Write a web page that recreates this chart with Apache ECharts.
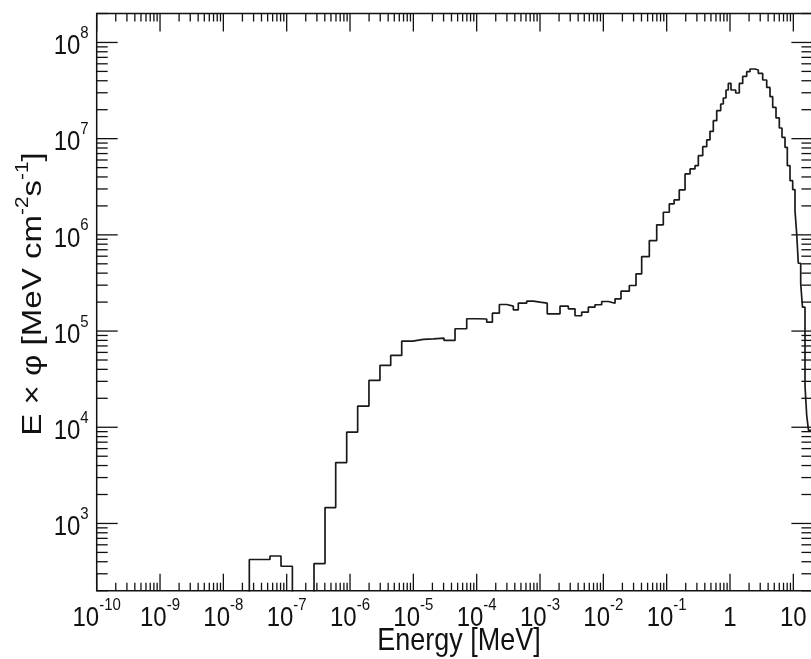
<!DOCTYPE html>
<html><head><meta charset="utf-8">
<script src="https://cdn.jsdelivr.net/npm/echarts@6/dist/echarts.min.js"></script>
<style>html,body{margin:0;padding:0;background:#fff;}#c{width:811px;height:659px;}</style>
</head><body><div id="c"></div>
<script>
// Bin edges (MeV) of the histogram, n+1 values
const binEdges = [2.57e-8, 5.45e-8, 8.13e-8, 1.23e-7, 2.70e-7, 4.03e-7, 5.94e-7, 8.86e-7, 1.32e-6, 1.99e-6,
  2.97e-6, 4.39e-6, 6.55e-6, 9.77e-6, 1.44e-5, 2.07e-5, 3.05e-5, 4.55e-5, 6.96e-5, 1.01e-4,
  1.44e-4, 1.77e-4, 2.28e-4, 2.98e-4, 3.79e-4, 4.54e-4, 6.16e-4, 7.83e-4, 1.00e-3, 1.30e-3,
  2.07e-3, 2.80e-3, 3.57e-3, 4.55e-3, 5.79e-3, 7.38e-3, 9.42e-3, 1.20e-2, 1.53e-2, 1.90e-2,
  2.57e-2, 3.28e-2, 4.03e-2, 5.32e-2, 6.96e-2, 8.85e-2, 0.110, 0.131, 0.158, 0.195,
  0.234, 0.280, 0.316, 0.371, 0.429, 0.483, 0.545, 0.617, 0.713, 0.784,
  0.865, 0.940, 1.037, 1.230, 1.402, 1.587, 1.835, 2.069, 2.481, 2.798,
  3.283, 3.798, 4.28, 4.723, 5.325, 6.003, 6.622, 7.386, 8.03, 8.86,
  9.77, 10.62, 11.30, 11.98, 13.07, 13.95, 15.28, 16.26, 17.36, 20.0];
// E x phi per bin [MeV cm^-2 s^-1]; 0 = empty bin
const fluxValues = [422, 459, 359, 0, 383, 1463, 4290, 8916, 16600, 30690,
  43930, 55800, 78560, 81800, 82790, 84400, 79890, 105700, 134200, 133500,
  123700, 153400, 188900, 181400, 166400, 194800, 204400, 199600, 194800, 151200,
  181400, 170400, 144200, 157100, 177100, 187600, 203000, 194800, 216500, 259700,
  297500, 393600, 595300, 872500, 1.27e6, 1.717e6, 2.098e6, 2.308e6, 2.933e6, 4.298e6,
  4.846e6, 5.243e6, 6.66e6, 8.26e6, 9.69e6, 1.191e7, 1.538e7, 1.954e7, 2.293e7, 2.646e7,
  3.204e7, 3.752e7, 3.204e7, 2.983e7, 3.752e7, 4.436e7, 4.964e7, 5.296e7, 5.17e7, 4.766e7,
  4.07e7, 3.41e7, 2.73e7, 2.113e7, 1.641e7, 1.291e7, 1.032e7, 8.12e6, 5.243e6, 3.66e6,
  2.954e6, 1.788e6, 1.024e6, 5.07e5, 3.10e5, 1.77e5, 2.72e4, 1.33e4, 9.3e3];

const xRange = [1e-10, 20];
const yRange = [200, 2e8];
const xDecades = [1e-10, 1e-9, 1e-8, 1e-7, 1e-6, 1e-5, 1e-4, 1e-3, 1e-2, 1e-1, 1, 10];
const xTickLabels = ['10{s|-10}', '10{s|-9}', '10{s|-8}', '10{s|-7}', '10{s|-6}', '10{s|-5}',
  '10{s|-4}', '10{s|-3}', '10{s|-2}', '10{s|-1}', '1', '10'];
const yDecades = [1e3, 1e4, 1e5, 1e6, 1e7, 1e8];
const yTickLabels = ['10{s|3}', '10{s|4}', '10{s|5}', '10{s|6}', '10{s|7}', '10{s|8}'];
const xTitle = 'Energy [MeV]';
const yTitle = 'E \u00d7 \u03c6 [MeV cm{s|-2}s{s|-1}]';

// minor/major tick values (log decades with 2..9 subdivisions)
function logTicks(lo, hi) {
  const out = [];
  for (let d = Math.floor(Math.log10(lo)); d <= Math.ceil(Math.log10(hi)); d++) {
    for (let m = 1; m <= 9; m++) {
      const v = m * Math.pow(10, d);
      if (v >= lo * 0.999 && v <= hi * 1.001) out.push([v, m === 1 ? 1 : 0]);
    }
  }
  return out;
}
const xTicks = logTicks(xRange[0], xRange[1]);
const yTicks = logTicks(yRange[0], yRange[1]);

const FLOOR = 1e-3; // stand-in for empty bins on the log scale (clipped)
const histData = [[binEdges[0], FLOOR]];
for (let i = 0; i < fluxValues.length; i++) histData.push([binEdges[i], fluxValues[i] > 0 ? fluxValues[i] : FLOOR]);
histData.push([binEdges[binEdges.length - 1], fluxValues[fluxValues.length - 1]]);

const FONT = 'Liberation Sans, Arial, sans-serif';
const SY = 1.16;
const tickRich = {
  b: { fontSize: 24, fontFamily: FONT, lineHeight: 31, verticalAlign: 'bottom', color: '#111' },
  s: { fontSize: 15, fontFamily: FONT, lineHeight: 15, verticalAlign: 'top', color: '#111' }
};
const TICK = '#111';

const chart = echarts.init(document.getElementById('c'), null, { renderer: 'canvas' });
chart.setOption({
  animation: false,
  backgroundColor: '#fff',
  grid: { left: 96.7, top: 13.5, right: -1.4, bottom: 68.3, show: true, borderColor: '#111', borderWidth: 1.5, containLabel: false, outerBoundsMode: 'none' },
  xAxis: { type: 'log', logBase: 10, min: xRange[0], max: xRange[1],
    axisLine: { show: false }, axisTick: { show: false }, axisLabel: { show: false }, splitLine: { show: false } },
  yAxis: { type: 'log', logBase: 10, min: yRange[0], max: yRange[1],
    axisLine: { show: false }, axisTick: { show: false }, axisLabel: { show: false }, splitLine: { show: false } },
  graphic: [
    { type: 'text', x: 459, y: 641, scaleY: SY,
      style: { text: xTitle, font: '27px ' + FONT, fill: '#111', align: 'center', verticalAlign: 'middle' } },
    { type: 'text', x: 31, y: 294, rotation: Math.PI / 2, scaleX: SY,
      style: { text: '{n|' + yTitle.replace(/\{s\|([^}]*)\}/g, '}{s|$1}{n|') + '}', fill: '#111', align: 'center', verticalAlign: 'middle',
        rich: { n: { fontSize: 28.5, fontFamily: FONT, lineHeight: 34, verticalAlign: 'bottom', fill: '#111' },
                s: { fontSize: 18, fontFamily: FONT, lineHeight: 18, verticalAlign: 'top', fill: '#111' } } } }
  ],
  series: [
    { type: 'line', data: histData, step: 'end', showSymbol: false, symbol: 'none', clip: true,
      lineStyle: { color: '#1a1a1a', width: 1.7 }, silent: true, z: 3 },
    { type: 'custom', silent: true, z: 4,
      data: xTicks,
      encode: { x: 0 },
      renderItem: function (params, api) {
        const cs = params.coordSys;
        const x = api.coord([api.value(0), yRange[0]])[0];
        const major = api.value(1) === 1;
        const lb = major ? 17 : 8, lt = major ? 18 : 8;
        const yb = cs.y + cs.height, yt = cs.y;
        return { type: 'group', children: [
          { type: 'line', shape: { x1: x, y1: yb, x2: x, y2: yb - lb }, style: { stroke: TICK, lineWidth: 1.3 } },
          { type: 'line', shape: { x1: x, y1: yt, x2: x, y2: yt + lt }, style: { stroke: TICK, lineWidth: 1.3 } }
        ] };
      } },
    { type: 'custom', silent: true, z: 4,
      data: yTicks,
      encode: { y: 0 },
      renderItem: function (params, api) {
        const cs = params.coordSys;
        const y = api.coord([xRange[0], api.value(0)])[1];
        const major = api.value(1) === 1;
        const len = major ? 21 : 11;
        const xl = cs.x, xr = cs.x + cs.width;
        return { type: 'group', children: [
          { type: 'line', shape: { x1: xl, y1: y, x2: xl + len, y2: y }, style: { stroke: TICK, lineWidth: 1.3 } },
          { type: 'line', shape: { x1: xr, y1: y, x2: xr - len, y2: y }, style: { stroke: TICK, lineWidth: 1.3 } }
        ] };
      } },
    { type: 'custom', silent: true, z: 5,
      data: xDecades.map(function (v, i) { return [v, i]; }),
      encode: { x: 0 },
      renderItem: function (params, api) {
        const cs = params.coordSys;
        const x = api.coord([api.value(0), yRange[0]])[0];
        return { type: 'text', x: x, y: cs.y + cs.height + 6, scaleY: SY,
          style: { text: '{b|' + xTickLabels[api.value(1)].replace(/\{s\|([^}]*)\}/g, '}{s|$1}{b|') + '}', fill: '#111',
            align: 'center', verticalAlign: 'top', rich: tickRich } };
      } },
    { type: 'custom', silent: true, z: 5,
      data: yDecades.map(function (v, i) { return [v, i]; }),
      encode: { y: 0 },
      renderItem: function (params, api) {
        const cs = params.coordSys;
        const y = api.coord([xRange[0], api.value(0)])[1];
        return { type: 'text', x: cs.x - 8, y: y, scaleY: SY,
          style: { text: '{b|' + yTickLabels[api.value(1)].replace(/\{s\|([^}]*)\}/g, '}{s|$1}{b|') + '}', fill: '#111',
            align: 'right', verticalAlign: 'middle', rich: tickRich } };
      } }
  ]
});
</script></body></html>
